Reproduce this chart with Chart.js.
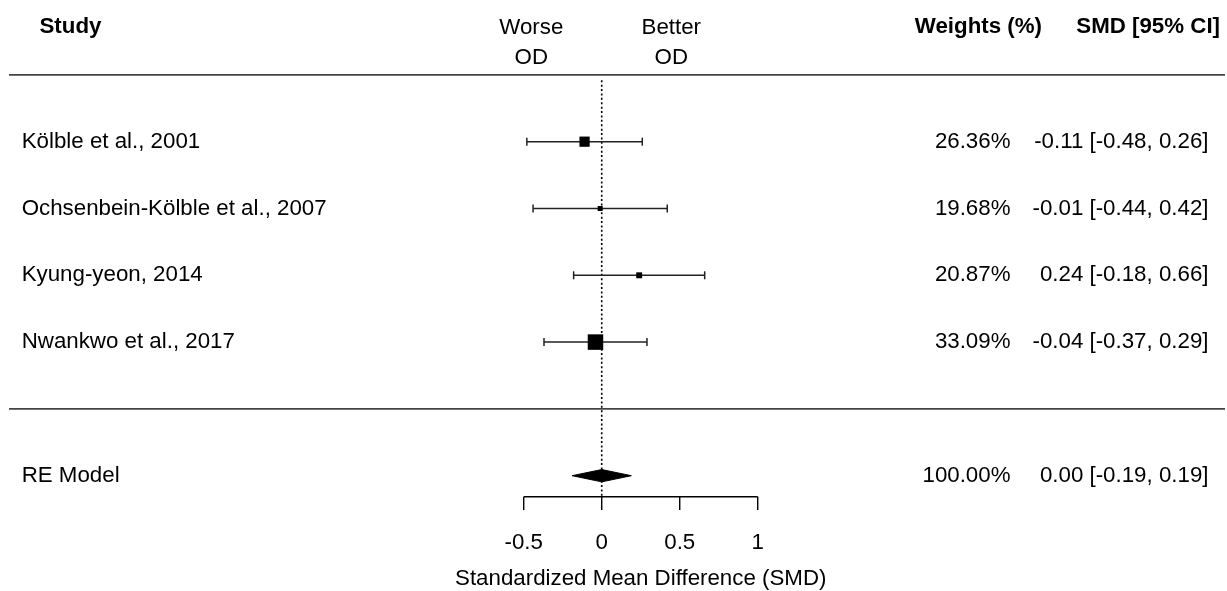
<!DOCTYPE html>
<html><head><meta charset="utf-8">
<script src="https://cdn.jsdelivr.net/npm/chart.js@4.4.1/dist/chart.umd.min.js"></script>
<style>html,body{margin:0;padding:0;background:#fff;}#wrap{width:1227px;height:591px;position:relative;}</style>
</head><body><div id="wrap"><canvas id="c"></canvas></div>
<script>
// ---- data ----
const studies = ["Kölble et al., 2001", "Ochsenbein-Kölble et al., 2007", "Kyung-yeon, 2014", "Nwankwo et al., 2017"];
const smd = [-0.11, -0.01, 0.24, -0.04];
const ciLow = [-0.48, -0.44, -0.18, -0.37];
const ciHigh = [0.26, 0.42, 0.66, 0.29];
const weights = [26.36, 19.68, 20.87, 33.09];
const reLabel = "RE Model";
const reEstimate = 0.00;
const reLow = -0.19;
const reHigh = 0.19;
const reWeight = 100.00;
const xTicks = [-0.5, 0, 0.5, 1];
const xTickLabels = ["-0.5", "0", "0.5", "1"];
const headers = { study: "Study", worse: ["Worse", "OD"], better: ["Better", "OD"], weights: "Weights (%)", smd: "SMD [95% CI]" };
const xTitle = "Standardized Mean Difference (SMD)";

// ---- layout ----
const FONT = '"Liberation Sans", Arial, Helvetica, sans-serif';
const FS = 22.3;
const k = studies.length;
const rows = studies.map((s, i) => k - i);
const RE_ROW = -1;
const AXIS_Y = -1.315, TICK_Y = -1.514, TICKLAB_Y = -2.012, TITLE_Y = -2.542;
const wMin = Math.min(...weights), wMax = Math.max(...weights);
const sideOf = w => 5 + 10.5 * (w - wMin) / (wMax - wMin);
const fmt = v => v.toFixed(2);

const datasets = [];
// reference dotted line
datasets.push({ type: 'line', data: [{ x: 0, y: 4.92 }, { x: 0, y: AXIS_Y }], borderColor: '#000', borderWidth: 1.6, borderDash: [2, 2.4], pointRadius: 0, order: 10 });
// CIs
studies.forEach((s, i) => {
  datasets.push({ type: 'line', data: [{ x: ciLow[i], y: rows[i] }, { x: ciHigh[i], y: rows[i] }],
    borderColor: '#222', borderWidth: 1.5, pointStyle: 'line', pointRotation: 90, pointRadius: 4,
    pointBorderColor: '#222', pointBorderWidth: 1.5, pointHoverRadius: 4, order: 5 });
});
// squares
datasets.push({ type: 'scatter', data: smd.map((v, i) => ({ x: v, y: rows[i] })), pointStyle: 'rect',
  pointRadius: weights.map(w => sideOf(w) / Math.SQRT2), pointBackgroundColor: '#000', pointBorderWidth: 0,
  pointHoverRadius: weights.map(w => sideOf(w) / Math.SQRT2), order: 1 });
// diamond
const dh = 0.092;
datasets.push({ type: 'line', data: [{ x: reLow, y: RE_ROW }, { x: reEstimate, y: RE_ROW + dh }, { x: reHigh, y: RE_ROW }, { x: reEstimate, y: RE_ROW - dh }, { x: reLow, y: RE_ROW }],
  borderColor: '#000', borderWidth: 1, backgroundColor: '#000', fill: 'shape', pointRadius: 0, tension: 0, order: 1 });

const decor = {
  id: 'decor',
  beforeDatasetsDraw(chart) {
    const { ctx, scales: { x, y }, chartArea } = chart;
    ctx.save();
    ctx.strokeStyle = '#444'; ctx.lineWidth = 1.8;
    [k + 1, 0].forEach(r => {
      const py = y.getPixelForValue(r);
      ctx.beginPath(); ctx.moveTo(chartArea.left + 9, py); ctx.lineTo(chartArea.right - 2, py); ctx.stroke();
    });
    ctx.restore();
  },
  afterDatasetsDraw(chart) {
    const { ctx, scales: { x, y } } = chart;
    ctx.save();
    // axis
    ctx.strokeStyle = '#000'; ctx.lineWidth = 1.4;
    const ay = y.getPixelForValue(AXIS_Y), ty = y.getPixelForValue(TICK_Y);
    ctx.beginPath();
    ctx.moveTo(x.getPixelForValue(xTicks[0]), ay); ctx.lineTo(x.getPixelForValue(xTicks[xTicks.length - 1]), ay);
    xTicks.forEach(t => { const px = x.getPixelForValue(t); ctx.moveTo(px, ay); ctx.lineTo(px, ty); });
    ctx.stroke();
    ctx.fillStyle = '#000';
    ctx.font = FS + 'px ' + FONT;
    ctx.textBaseline = 'middle';
    ctx.textAlign = 'center';
    xTicks.forEach((t, i) => ctx.fillText(xTickLabels[i], x.getPixelForValue(t), y.getPixelForValue(TICKLAB_Y)));
    ctx.fillText(xTitle, x.getPixelForValue((xTicks[0] + xTicks[xTicks.length - 1]) / 2), y.getPixelForValue(TITLE_Y));
    // header
    ctx.fillText(headers.worse[0], 531.3, 28);
    ctx.fillText(headers.worse[1], 531.3, 57.5);
    ctx.fillText(headers.better[0], 671.3, 28);
    ctx.fillText(headers.better[1], 671.3, 57.5);
    ctx.font = 'bold ' + FS + 'px ' + FONT;
    ctx.textAlign = 'left';
    ctx.fillText(headers.study, 39.5, 26.5);
    ctx.textAlign = 'right';
    ctx.fillText(headers.weights, 1042, 26.5);
    ctx.fillText(headers.smd, 1220, 26.5);
    // rows
    ctx.font = FS + 'px ' + FONT;
    studies.forEach((s, i) => {
      const py = y.getPixelForValue(rows[i]);
      ctx.textAlign = 'left'; ctx.fillText(s, 21.7, py);
      ctx.textAlign = 'right';
      ctx.fillText(fmt(weights[i]) + '%', 1010.5, py);
      ctx.fillText(fmt(smd[i]) + ' [' + fmt(ciLow[i]) + ', ' + fmt(ciHigh[i]) + ']', 1208.5, py);
    });
    const ry = y.getPixelForValue(RE_ROW);
    ctx.textAlign = 'left'; ctx.fillText(reLabel, 21.7, ry);
    ctx.textAlign = 'right';
    ctx.fillText(fmt(reWeight) + '%', 1010.5, ry);
    ctx.fillText(fmt(reEstimate) + ' [' + fmt(reLow) + ', ' + fmt(reHigh) + ']', 1208.5, ry);
    ctx.restore();
  }
};

new Chart(document.getElementById('c'), {
  type: 'scatter',
  data: { datasets },
  options: {
    responsive: true, maintainAspectRatio: false, animation: false,
    layout: { padding: 0, autoPadding: false },
    plugins: { legend: { display: false }, tooltip: { enabled: false } },
    events: [],
    scales: {
      x: { type: 'linear', min: -3.857, max: 4.008, display: false },
      y: { type: 'linear', min: -2.726, max: 6.121, display: false }
    }
  },
  plugins: [decor]
});
</script></body></html>
